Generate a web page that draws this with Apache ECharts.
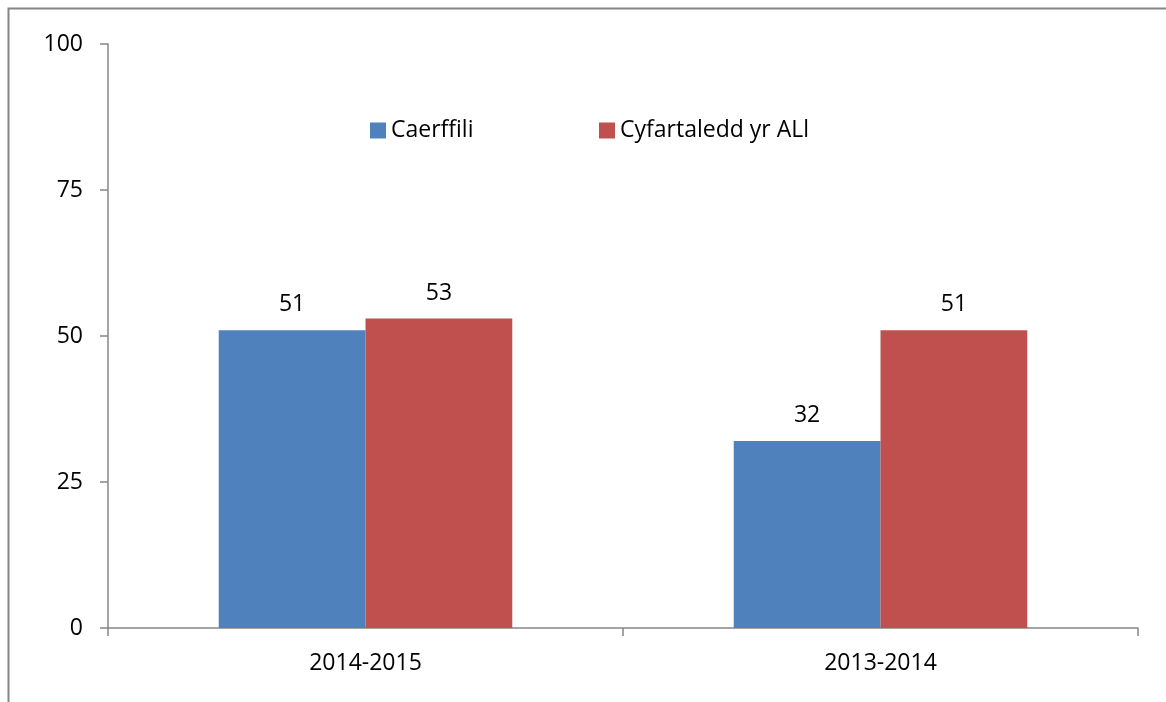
<!DOCTYPE html>
<html>
<head>
<meta charset="utf-8">
<script src="https://cdn.jsdelivr.net/npm/echarts@6/dist/echarts.min.js"></script>
<style>
  html, body { margin: 0; padding: 0; background: #fff; }
  #chart { width: 1166px; height: 702px; }
</style>
</head>
<body>
<div id="chart"></div>
<script>
// Data
const categories = ['2014-2015', '2013-2014'];
const caerffili = [51, 32];
const cyfartaledd = [53, 51];
const seriesNames = ['Caerffili', 'Cyfartaledd yr ALl'];

const FONT = '"Open Sans", "Noto Sans", sans-serif';
const FS = 23;
const AXIS_GREY = '#868686';

const chart = echarts.init(document.getElementById('chart'), null, { renderer: 'canvas' });

const labelStyle = {
  show: true,
  position: 'top',
  distance: 14,
  color: '#000',
  fontSize: FS,
  fontFamily: FONT
};

// one legend block per series so each sits where the reference puts it
function legendAt(left, name) {
  return {
    top: 119,
    left: left,
    padding: 0,
    itemWidth: 16,
    itemHeight: 16,
    icon: 'rect',
    textStyle: { color: '#000', fontSize: FS, fontFamily: FONT },
    data: [name]
  };
}

chart.setOption({
  animation: false,
  backgroundColor: '#fff',
  // outer chart-area border (only left and top visible in reference)
  graphic: [{
    type: 'rect',
    shape: { x: 8.5, y: 8.5, width: 1300, height: 800 },
    style: { fill: 'none', stroke: AXIS_GREY, lineWidth: 2 },
    silent: true
  }],
  grid: { left: 108, right: 28, top: 44, bottom: 74 },
  legend: [legendAt(370, seriesNames[0]), legendAt(599, seriesNames[1])],
  xAxis: {
    type: 'category',
    data: categories,
    axisLine: { lineStyle: { color: AXIS_GREY, width: 1.5 } },
    axisTick: { show: true, length: 8, lineStyle: { color: AXIS_GREY, width: 1.5 } },
    axisLabel: { color: '#000', fontSize: FS, fontFamily: FONT, margin: 24 }
  },
  yAxis: {
    type: 'value',
    min: 0,
    max: 100,
    interval: 25,
    axisLine: { show: true, lineStyle: { color: AXIS_GREY, width: 1.5 } },
    axisTick: { show: true, length: 8, lineStyle: { color: AXIS_GREY, width: 1.5 } },
    axisLabel: { color: '#000', fontSize: FS, fontFamily: FONT, margin: 25 },
    splitLine: { show: false }
  },
  series: [
    {
      name: seriesNames[0],
      type: 'bar',
      data: caerffili,
      barGap: '0%',
      barCategoryGap: '43%',
      itemStyle: { color: '#4F81BD' },
      label: labelStyle
    },
    {
      name: seriesNames[1],
      type: 'bar',
      data: cyfartaledd,
      itemStyle: { color: '#C0504D' },
      label: labelStyle
    }
  ]
});
</script>
</body>
</html>
